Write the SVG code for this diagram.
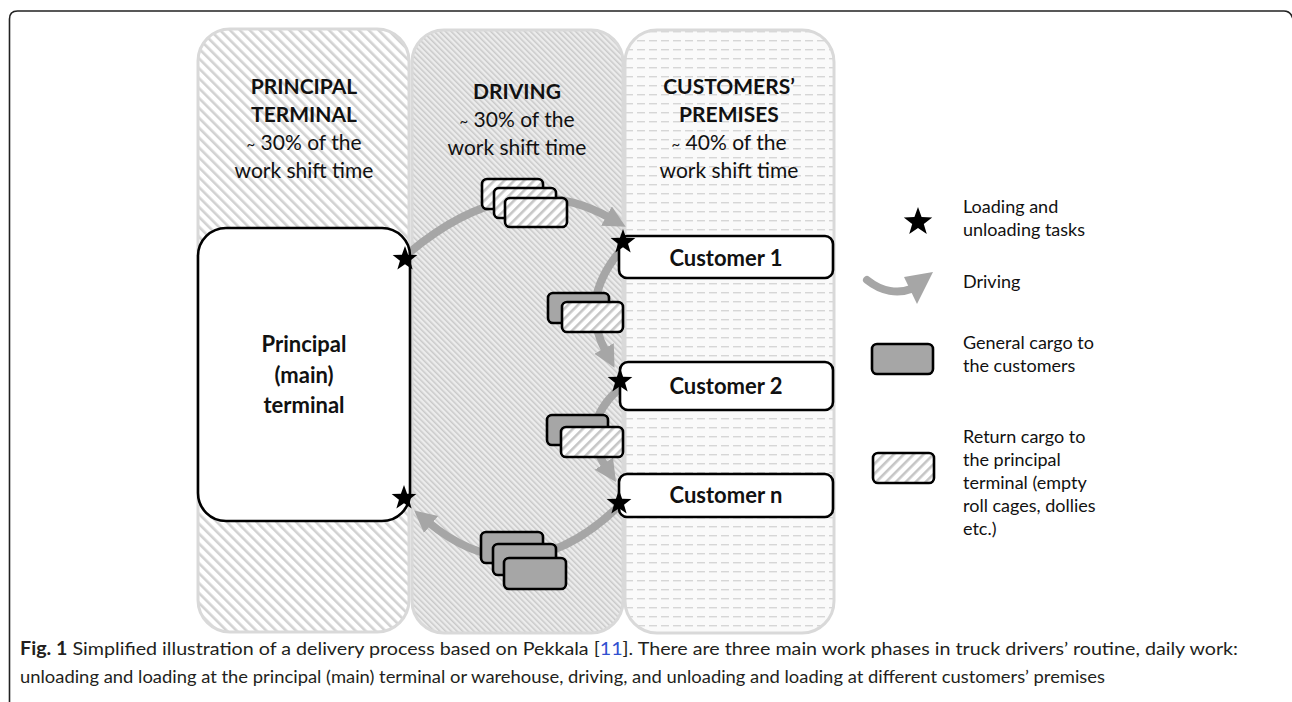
<svg xmlns="http://www.w3.org/2000/svg" width="1292" height="702" viewBox="0 0 1292 702">
  <style>
    .frame { fill: none; stroke: #222; stroke-width: 1.6; }
    .col { stroke: #d9d9d9; stroke-width: 3; }
    .head { font-family: Lato, "Open Sans", sans-serif; font-size: 21px; fill: #111; text-anchor: middle; }
    .bold { font-weight: bold; }
    .tilde { font-size: 15px; }
    .box { fill: #fff; stroke: #000; stroke-width: 2.6; }
    .boxlabel { font-family: Lato, "Open Sans", sans-serif; font-size: 22px; font-weight: bold; fill: #111; text-anchor: middle; }
    .drive { fill: none; stroke: #a6a6a6; stroke-width: 8; stroke-linecap: round; }
    .cargo { stroke: #000; stroke-width: 2.6; }
    .general { fill: #a6a6a6; }
    .ret { fill: url(#retHatch); }
    .star { fill: #000; }
    .legend { font-family: Lato, "Open Sans", sans-serif; font-size: 18px; fill: #111; }
    .caption { font-family: Lato, "Open Sans", sans-serif; font-size: 18px; fill: #231f20; }
  </style>
  <defs>
    <!-- column fills -->
    <pattern id="col1Hatch" patternUnits="userSpaceOnUse" width="7" height="7" patternTransform="rotate(-45)">
      <rect width="7" height="7" fill="#fff"/>
      <rect x="0" y="0" width="2.6" height="7" fill="#d2d2d2"/>
    </pattern>
    <pattern id="col2Hatch" patternUnits="userSpaceOnUse" width="4" height="4" patternTransform="rotate(-45)">
      <rect width="4" height="4" fill="#ececec"/>
      <rect x="0" y="0" width="1.5" height="4" fill="#c9c9c9"/>
    </pattern>
    <pattern id="col3Dash" patternUnits="userSpaceOnUse" width="12" height="9">
      <rect width="12" height="9" fill="#fafafa"/>
      <rect x="1" y="4" width="8" height="1.4" fill="#d6d6d6"/>
    </pattern>
    <!-- return cargo fill -->
    <pattern id="retHatch" patternUnits="userSpaceOnUse" width="7" height="7" patternTransform="rotate(45)">
      <rect width="7" height="7" fill="#fff"/>
      <rect x="0" y="0" width="2.6" height="7" fill="#c6c6c6"/>
    </pattern>
    <marker id="arrow" markerUnits="userSpaceOnUse" markerWidth="26" markerHeight="26" refX="4" refY="11" orient="auto">
      <path d="M0,0 L22,11 L0,22 Z" fill="#a6a6a6"/>
    </marker>
    <path id="star" d="M0,-13 L3.12,-4.29 L12.36,-4.02 L5.04,1.64 L7.64,10.52 L0,5.3 L-7.64,10.52 L-5.04,1.64 L-12.36,-4.02 L-3.12,-4.29 Z"/>
  </defs>

  <rect width="1292" height="702" fill="#fff"/>
  <path class="frame" d="M9.5,702 V19 Q9.5,11 17.5,11 H1284 Q1291,11 1293,19"/>

  <!-- work phase columns -->
  <g id="col-principal">
    <rect class="col" x="198" y="29" width="211" height="603" rx="32" fill="url(#col1Hatch)"/>
    <text class="head bold" x="304" y="94">PRINCIPAL</text>
    <text class="head bold" x="304" y="122">TERMINAL</text>
    <text class="head" x="304" y="150"><tspan class="tilde">~</tspan> 30% of the</text>
    <text class="head" x="304" y="178">work shift time</text>
  </g>
  <g id="col-driving">
    <rect class="col" x="412" y="30" width="211" height="603" rx="32" fill="url(#col2Hatch)"/>
    <text class="head bold" x="517" y="99">DRIVING</text>
    <text class="head" x="517" y="127"><tspan class="tilde">~</tspan> 30% of the</text>
    <text class="head" x="517" y="155">work shift time</text>
  </g>
  <g id="col-customers">
    <rect class="col" x="625" y="30" width="209" height="603" rx="32" fill="url(#col3Dash)"/>
    <text class="head bold" x="729" y="94">CUSTOMERS’</text>
    <text class="head bold" x="729" y="122">PREMISES</text>
    <text class="head" x="729" y="150"><tspan class="tilde">~</tspan> 40% of the</text>
    <text class="head" x="729" y="178">work shift time</text>
  </g>

  <!-- driving connectors -->
  <g id="connectors">
    <path class="drive" d="M410,252 Q515,165 610,218" marker-end="url(#arrow)"/>
    <path class="drive" d="M621,250 Q578,300 606,352" marker-end="url(#arrow)"/>
    <path class="drive" d="M620,388 Q578,425 606,467" marker-end="url(#arrow)"/>
    <path class="drive" d="M620,505 Q522,600 428,522" marker-end="url(#arrow)"/>
  </g>

  <!-- terminal and customers -->
  <g id="principal-terminal">
    <rect class="box" x="198" y="228" width="212" height="293" rx="28"/>
    <text class="boxlabel" x="304" y="352">Principal</text>
    <text class="boxlabel" x="304" y="383">(main)</text>
    <text class="boxlabel" x="304" y="413">terminal</text>
  </g>
  <g id="customer-1">
    <rect class="box" x="619" y="236" width="214" height="42" rx="8"/>
    <text class="boxlabel" x="726" y="266">Customer 1</text>
  </g>
  <g id="customer-2">
    <rect class="box" x="620" y="362" width="213" height="48" rx="8"/>
    <text class="boxlabel" x="726" y="394">Customer 2</text>
  </g>
  <g id="customer-n">
    <rect class="box" x="619" y="474" width="214" height="43" rx="8"/>
    <text class="boxlabel" x="726" y="503">Customer n</text>
  </g>

  <!-- cargo carried on each leg -->
  <g id="cargo-outbound-return">
    <rect class="cargo ret" x="482" y="179" width="61" height="30" rx="5"/>
    <rect class="cargo ret" x="494" y="188" width="62" height="30" rx="5"/>
    <rect class="cargo ret" x="505" y="198" width="62" height="29" rx="5"/>
  </g>
  <g id="cargo-leg-1">
    <rect class="cargo general" x="548" y="293" width="61" height="30" rx="5"/>
    <rect class="cargo ret" x="562" y="302" width="61" height="30" rx="5"/>
  </g>
  <g id="cargo-leg-2">
    <rect class="cargo general" x="547" y="415" width="61" height="30" rx="5"/>
    <rect class="cargo ret" x="561" y="427" width="62" height="30" rx="5"/>
  </g>
  <g id="cargo-return-leg">
    <rect class="cargo general" x="481" y="532" width="62" height="31" rx="5"/>
    <rect class="cargo general" x="493" y="544" width="63" height="31" rx="5"/>
    <rect class="cargo general" x="504" y="558" width="62" height="31" rx="5"/>
  </g>

  <!-- loading / unloading points -->
  <g id="tasks">
    <use href="#star" class="star" x="405" y="259"/>
    <use href="#star" class="star" x="623" y="242"/>
    <use href="#star" class="star" x="620" y="381"/>
    <use href="#star" class="star" x="619" y="503"/>
    <use href="#star" class="star" x="404" y="498"/>
  </g>

  <!-- legend -->
  <g id="legend">
    <use href="#star" class="star" transform="translate(918,222) scale(1.15)"/>
    <text class="legend" x="963" y="213">Loading and</text>
    <text class="legend" x="963" y="236">unloading tasks</text>

    <path class="drive" d="M867,280 C882,292 898,294 911,289"/>
    <polygon points="904,277 933,272 917,304" fill="#a6a6a6"/>
    <text class="legend" x="963" y="288">Driving</text>

    <rect class="cargo general" x="872" y="344" width="61" height="30" rx="5"/>
    <text class="legend" x="963" y="349">General cargo to</text>
    <text class="legend" x="963" y="372">the customers</text>

    <rect class="cargo ret" x="873" y="453" width="61" height="30" rx="5"/>
    <text class="legend" x="963" y="443">Return cargo to</text>
    <text class="legend" x="963" y="466">the principal</text>
    <text class="legend" x="963" y="489">terminal (empty</text>
    <text class="legend" x="963" y="512">roll cages, dollies</text>
    <text class="legend" x="963" y="535">etc.)</text>
  </g>

  <!-- caption -->
  <text class="caption" x="20" y="655" textLength="1218" lengthAdjust="spacingAndGlyphs"><tspan font-weight="bold">Fig. 1</tspan> Simplified illustration of a delivery process based on Pekkala [<tspan fill="#3050d0">11</tspan>]. There are three main work phases in truck drivers’ routine, daily work:</text>
  <text class="caption" x="20" y="683" textLength="1085" lengthAdjust="spacingAndGlyphs">unloading and loading at the principal (main) terminal or warehouse, driving, and unloading and loading at different customers’ premises</text>
</svg>
